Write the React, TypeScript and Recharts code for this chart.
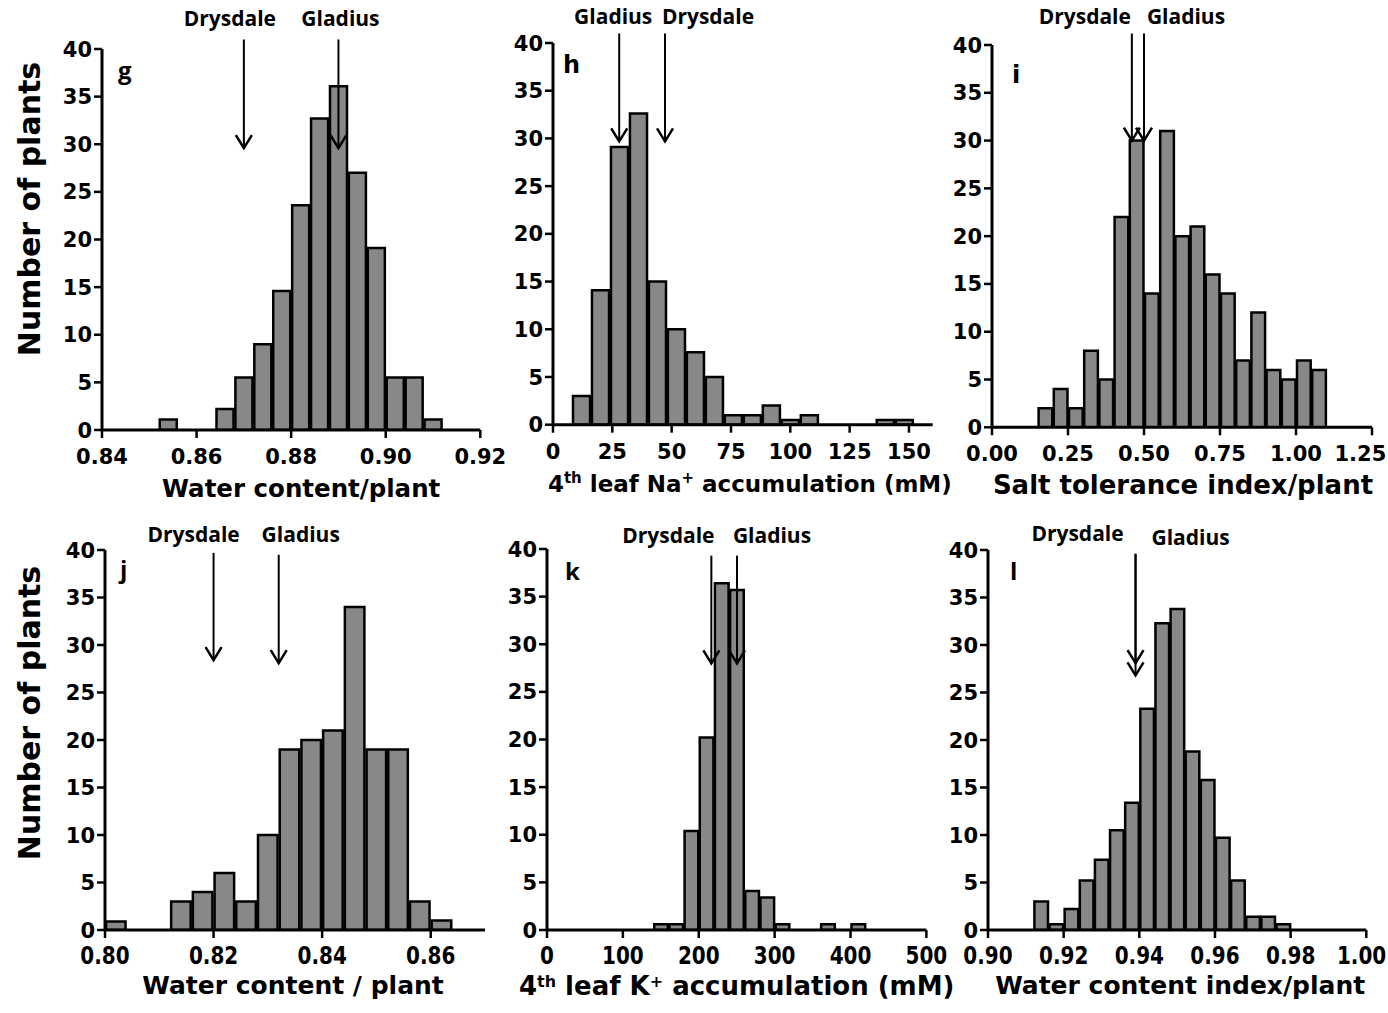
import React from "react";
import { BarChart, Bar, XAxis, YAxis, ReferenceLine, ReferenceDot } from "recharts";

const AXIS_FONT = "'DejaVu Sans', Verdana, sans-serif";
const NOTE_FONT = "'Open Sans', 'Noto Sans', sans-serif";
const PAGE_W = 1388;

const yTicks = [0, 5, 10, 15, 20, 25, 30, 35, 40];
const cultivars = ["Drysdale", "Gladius"];

// g - water content per plant (bin starts, width 0.004)
const gBinStart = [0.852, 0.864, 0.868, 0.872, 0.876, 0.88, 0.884, 0.888, 0.892, 0.896, 0.9, 0.904, 0.908];
const gCounts = [1.1, 2.2, 5.5, 9, 14.6, 23.6, 32.7, 36.1, 27, 19.1, 5.5, 5.5, 1.1];
const gTicks = [0.84, 0.86, 0.88, 0.9, 0.92];
const gArrowX = [0.87, 0.89];
const gArrowTip = [29.6, 29.6];
const gArrowTop = [41, 41];

// h - 4th leaf Na+ (width 8)
const hBinStart = [8, 16, 24, 32, 40, 48, 56, 64, 72, 80, 88, 96, 104, 136, 144];
const hCounts = [3, 14.1, 29.1, 32.6, 15, 10, 7.6, 5, 1, 1, 2, 0.5, 1, 0.5, 0.5];
const hTicks = [0, 25, 50, 75, 100, 125, 150];
const hArrowX = [47.2, 27.9];
const hArrowTip = [29.7, 29.7];
const hArrowTop = [41, 41];

// i - salt tolerance index (width 0.05)
const iBinStart = [0.15, 0.2, 0.25, 0.3, 0.35, 0.4, 0.45, 0.5, 0.55, 0.6, 0.65, 0.7, 0.75, 0.8, 0.85, 0.9, 0.95, 1.0, 1.05];
const iCounts = [2, 4, 2, 8, 5, 22, 30, 14, 31, 20, 21, 16, 14, 7, 12, 6, 5, 7, 6];
const iTicks = [0, 0.25, 0.5, 0.75, 1.0, 1.25];
const iArrowX = [0.46, 0.5];
const iArrowTip = [30, 30];
const iArrowTop = [41.2, 41.2];

// j - water content / plant (width 0.004)
const jBinStart = [0.8, 0.812, 0.816, 0.82, 0.824, 0.828, 0.832, 0.836, 0.84, 0.844, 0.848, 0.852, 0.856, 0.86];
const jCounts = [0.9, 3, 4, 6, 3, 10, 19, 20, 21, 34, 19, 19, 3, 1];
const jTicks = [0.8, 0.82, 0.84, 0.86];
const jArrowX = [0.82, 0.832];
const jArrowTip = [28.4, 28.1];
const jArrowTop = [39.7, 39.5];

// k - 4th leaf K+ (width 20)
const kBinStart = [140, 160, 180, 200, 220, 240, 260, 280, 300, 360, 400];
const kCounts = [0.6, 0.6, 10.4, 20.2, 36.4, 35.7, 4.1, 3.4, 0.6, 0.6, 0.6];
const kTicks = [0, 100, 200, 300, 400, 500];
const kArrowX = [216.6, 250.4];
const kArrowTip = [28, 28];
const kArrowTop = [39.3, 39.3];

// l - water content index (width 0.004)
const lBinStart = [0.912, 0.916, 0.92, 0.924, 0.928, 0.932, 0.936, 0.94, 0.944, 0.948, 0.952, 0.956, 0.96, 0.964, 0.968, 0.972, 0.976];
const lCounts = [3, 0.6, 2.2, 5.2, 7.4, 10.5, 13.4, 23.3, 32.3, 33.8, 18.8, 15.8, 9.7, 5.2, 1.4, 1.4, 0.6];
const lTicks = [0.9, 0.92, 0.94, 0.96, 0.98, 1.0];
const lArrowX = [0.939, 0.939];
const lArrowTip = [26.8, 28.1];
const lArrowTop = [39.6, 39.6];

type ArrowSpec = { name: string; x: number; top: number; tip: number; dx: number; dy: number };

function makeArrows(xs: number[], tops: number[], tips: number[], dxs: number[], dys: number[]): ArrowSpec[] {
  return cultivars.map((name, i) => ({ name, x: xs[i], top: tops[i], tip: tips[i], dx: dxs[i], dy: dys[i] }));
}

// rough DejaVu Sans Bold width of a numeric label
const labelWidth = (s: string, size: number) =>
  s.split("").reduce((w, c) => w + (c === "." ? 0.38 : 0.696), 0) * size;

const YW = 100;
const MT = 70;
const MR = 40;
const XH = 90;

interface PanelProps {
  plotX: number;
  plotY: number;
  plotW: number;
  plotH: number;
  domain: [number, number];
  ticks: number[];
  digits: number;
  binStart: number[];
  binWidth: number;
  counts: number[];
  arrows: ArrowSpec[];
  letter: string;
  letterFont: string;
  letterDx: number;
  letterDy: number;
  title: React.ReactNode;
  titleSize: number;
  titleDx: number;
  titleDy: number;
  tickMargin: number;
  tickSize: number;
  tickScaleY: number;
  yLabelX?: number;
  yLabelDy?: number;
}

function Panel(p: PanelProps) {
  const data = p.binStart.map((s, i) => ({ mid: s + p.binWidth / 2, count: p.counts[i] }));
  const barSize = (p.plotW * p.binWidth) / (p.domain[1] - p.domain[0]);
  const fmt = (v: number) => v.toFixed(p.digits);
  const svgLeft = p.plotX - YW;

  return (
    <div style={{ position: "absolute", left: svgLeft, top: p.plotY - MT }}>
      <BarChart
        width={YW + p.plotW + MR}
        height={MT + p.plotH + XH}
        data={data}
        margin={{ top: MT, right: MR, bottom: 0, left: 0 }}
        barGap={0}
        barCategoryGap={0}
      >
        <XAxis
          type="number"
          dataKey="mid"
          domain={p.domain}
          ticks={p.ticks}
          interval={0}
          allowDataOverflow
          height={XH}
          tickSize={8}
          tickMargin={p.tickMargin}
          axisLine={{ stroke: "#000", strokeWidth: 3 }}
          tickLine={{ stroke: "#000", strokeWidth: 2.5 }}
          tick={(t: any) => {
            const label = fmt(t.payload.value);
            const half = labelWidth(label, p.tickSize) / 2;
            const overflow = svgLeft + t.x + half - (PAGE_W - 2);
            const x = overflow > 0 ? t.x - overflow : t.x;
            return (
              <g transform={`translate(${x},${t.y}) scale(1,${p.tickScaleY})`}>
                <text
                  textAnchor="middle"
                  dy="0.72em"
                  fontFamily={AXIS_FONT}
                  fontWeight={700}
                  fontSize={p.tickSize}
                  fill="#000"
                >
                  {label}
                </text>
              </g>
            );
          }}
          label={(lp: any) => {
            const vb = lp.viewBox;
            return (
              <text
                x={vb.x + vb.width / 2 + p.titleDx}
                y={vb.y + p.titleDy}
                textAnchor="middle"
                fontFamily={AXIS_FONT}
                fontWeight={700}
                fontSize={p.titleSize}
                fill="#000"
              >
                {p.title}
              </text>
            );
          }}
        />
        <YAxis
          type="number"
          domain={[0, 40]}
          ticks={yTicks}
          interval={0}
          allowDataOverflow
          width={YW}
          tickSize={8}
          tickMargin={2}
          axisLine={{ stroke: "#000", strokeWidth: 3 }}
          tickLine={{ stroke: "#000", strokeWidth: 2.5 }}
          tick={(t: any) => (
            <text
              x={t.x}
              y={t.y}
              dy="0.36em"
              textAnchor="end"
              fontFamily={AXIS_FONT}
              fontWeight={700}
              fontSize={21}
              fill="#000"
            >
              {t.payload.value}
            </text>
          )}
          label={
            p.yLabelX !== undefined
              ? (lp: any) => {
                  const vb = lp.viewBox;
                  return (
                    <text
                      transform={`translate(${vb.x + (p.yLabelX as number)},${vb.y + vb.height / 2 + (p.yLabelDy ?? 0)}) rotate(-90)`}
                      textAnchor="middle"
                      fontFamily={AXIS_FONT}
                      fontWeight={700}
                      fontSize={30}
                      fill="#000"
                    >
                      Number of plants
                    </text>
                  );
                }
              : undefined
          }
        />
        <Bar
          dataKey="count"
          fill="#888888"
          stroke="#000"
          strokeWidth={2.5}
          barSize={barSize}
          isAnimationActive={false}
        />
        {p.arrows.map((a, i) => (
          <ReferenceLine
            key={`shaft${i}`}
            segment={[
              { x: a.x, y: a.top },
              { x: a.x, y: a.tip },
            ]}
            stroke="#000"
            strokeWidth={2}
            ifOverflow="visible"
          />
        ))}
        {p.arrows.map((a, i) => (
          <ReferenceDot
            key={`head${i}`}
            x={a.x}
            y={a.tip}
            ifOverflow="visible"
            shape={(d: any) => (
              <path
                d={`M${d.cx - 8},${d.cy - 13}L${d.cx},${d.cy}L${d.cx + 8},${d.cy - 13}`}
                fill="none"
                stroke="#000"
                strokeWidth={2.5}
              />
            )}
          />
        ))}
        {p.arrows.map((a, i) => (
          <ReferenceDot
            key={`name${i}`}
            x={a.x}
            y={a.top}
            ifOverflow="visible"
            shape={(d: any) => (
              <text
                x={d.cx + a.dx}
                y={d.cy + a.dy}
                textAnchor="middle"
                fontFamily={NOTE_FONT}
                fontWeight={700}
                fontSize={21}
                fill="#000"
              >
                {a.name}
              </text>
            )}
          />
        ))}
        <ReferenceDot
          x={p.domain[0]}
          y={40}
          ifOverflow="visible"
          shape={(d: any) => (
            <text
              x={d.cx + p.letterDx}
              y={d.cy + p.letterDy}
              fontFamily={p.letterFont}
              fontWeight={700}
              fontSize={24}
              fill="#000"
            >
              {p.letter}
            </text>
          )}
        />
      </BarChart>
    </div>
  );
}

const naTitle = (
  <>
    <tspan>4</tspan>
    <tspan dy={-9} fontSize={15}>th</tspan>
    <tspan dy={9}> leaf Na</tspan>
    <tspan dy={-9} fontSize={15}>+</tspan>
    <tspan dy={9}> accumulation (mM)</tspan>
  </>
);

const kTitle = (
  <>
    <tspan>4</tspan>
    <tspan dy={-8} fontSize={16}>th</tspan>
    <tspan dy={8}> leaf K</tspan>
    <tspan dy={-8} fontSize={16}>+</tspan>
    <tspan dy={8}> accumulation (mM)</tspan>
  </>
);

export default function App() {
  return (
    <div style={{ position: "relative", width: PAGE_W, height: 1013, overflow: "hidden", background: "#fff" }}>
      <style>{`body{margin:0}`}</style>
      <Panel
        plotX={101.7}
        plotY={49}
        plotW={378.3}
        plotH={381}
        domain={[0.84, 0.92]}
        ticks={gTicks}
        digits={2}
        binStart={gBinStart}
        binWidth={0.004}
        counts={gCounts}
        arrows={makeArrows(gArrowX, gArrowTop, gArrowTip, [-14, 2], [-13, -13])}
        letter="g"
        letterFont={NOTE_FONT}
        letterDx={16}
        letterDy={30}
        title="Water content/plant"
        titleSize={24.5}
        titleDx={10}
        titleDy={67}
        tickMargin={10}
        tickSize={21}
        tickScaleY={1.05}
        yLabelX={38.3}
        yLabelDy={-30.5}
      />
      <Panel
        plotX={553.3}
        plotY={43.3}
        plotW={379.7}
        plotH={381.7}
        domain={[0, 160]}
        ticks={hTicks}
        digits={0}
        binStart={hBinStart}
        binWidth={8}
        counts={hCounts}
        arrows={makeArrows(hArrowX, hArrowTop, hArrowTip, [43, -6], [-9, -9])}
        letter="h"
        letterFont={AXIS_FONT}
        letterDx={10}
        letterDy={30}
        title={naTitle}
        titleSize={23}
        titleDx={7}
        titleDy={67}
        tickMargin={10}
        tickSize={21}
        tickScaleY={1.05}
      />
      <Panel
        plotX={991.7}
        plotY={45}
        plotW={380}
        plotH={382.3}
        domain={[0, 1.25]}
        ticks={iTicks}
        digits={2}
        binStart={iBinStart}
        binWidth={0.05}
        counts={iCounts}
        arrows={makeArrows(iArrowX, iArrowTop, iArrowTip, [-47, 42], [-10, -10])}
        letter="i"
        letterFont={AXIS_FONT}
        letterDx={20}
        letterDy={38}
        title="Salt tolerance index/plant"
        titleSize={26}
        titleDx={1}
        titleDy={67}
        tickMargin={10}
        tickSize={21}
        tickScaleY={1.05}
      />
      <Panel
        plotX={105}
        plotY={550}
        plotW={380}
        plotH={380}
        domain={[0.8, 0.87]}
        ticks={jTicks}
        digits={2}
        binStart={jBinStart}
        binWidth={0.004}
        counts={jCounts}
        arrows={makeArrows(jArrowX, jArrowTop, jArrowTip, [-20, 22], [-11, -13])}
        letter="j"
        letterFont={NOTE_FONT}
        letterDx={15}
        letterDy={28}
        title="Water content / plant"
        titleSize={25}
        titleDx={-2}
        titleDy={64}
        tickMargin={9}
        tickSize={20}
        tickScaleY={1.2}
        yLabelX={35}
        yLabelDy={-27}
      />
      <Panel
        plotX={547.3}
        plotY={549}
        plotW={379.4}
        plotH={381}
        domain={[0, 500]}
        ticks={kTicks}
        digits={0}
        binStart={kBinStart}
        binWidth={20}
        counts={kCounts}
        arrows={makeArrows(kArrowX, kArrowTop, kArrowTip, [-43, 35], [-13, -13])}
        letter="k"
        letterFont={NOTE_FONT}
        letterDx={18}
        letterDy={31}
        title={kTitle}
        titleSize={26}
        titleDx={0}
        titleDy={65}
        tickMargin={9}
        tickSize={20}
        tickScaleY={1.2}
      />
      <Panel
        plotX={987.7}
        plotY={550}
        plotW={378.3}
        plotH={380}
        domain={[0.9, 1.0]}
        ticks={lTicks}
        digits={2}
        binStart={lBinStart}
        binWidth={0.004}
        counts={lCounts}
        arrows={makeArrows(lArrowX, lArrowTop, lArrowTip, [-58, 55], [-13, -9])}
        letter="l"
        letterFont={NOTE_FONT}
        letterDx={22}
        letterDy={30}
        title="Water content index/plant"
        titleSize={25}
        titleDx={3}
        titleDy={64}
        tickMargin={9}
        tickSize={20}
        tickScaleY={1.2}
      />
    </div>
  );
}
